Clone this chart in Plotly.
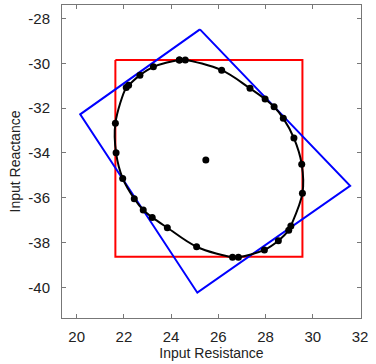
import plotly.graph_objects as go

# Red bounding rectangle (corners, closed)
red_x = [21.64, 29.56, 29.56, 21.64, 21.64]
red_y = [-29.85, -29.85, -38.64, -38.64, -29.85]

# Blue rotated rectangle (corners, closed)
blue_x = [25.22, 31.58, 25.11, 20.15, 25.22]
blue_y = [-28.49, -35.47, -40.24, -32.28, -28.49]

# Black closed curve through measured points
dot_x = [24.35, 24.6, 26.14, 27.34, 27.98, 28.36, 28.75, 29.2, 29.53, 29.56,
         29.07, 28.98, 28.54, 27.95, 26.85, 26.6, 25.08, 23.84, 23.2, 22.82,
         22.44, 21.95, 21.67, 21.64, 22.1, 22.2, 22.68, 23.25]
dot_y = [-29.85, -29.85, -30.31, -31.12, -31.6, -31.94, -32.46, -33.34, -34.51, -35.8,
         -37.26, -37.45, -37.92, -38.33, -38.66, -38.66, -38.19, -37.34, -36.88, -36.55,
         -36.05, -35.14, -34.0, -32.68, -31.08, -30.98, -30.53, -30.16]

center_x = [25.47]
center_y = [-34.32]

xticks = [20, 22, 24, 26, 28, 30, 32]
yticks = [-40, -38, -36, -34, -32, -30, -28]

fig = go.Figure()
fig.add_trace(go.Scatter(x=red_x, y=red_y, mode="lines",
                         line=dict(color="#ff0000", width=2), showlegend=False))
fig.add_trace(go.Scatter(x=blue_x, y=blue_y, mode="lines",
                         line=dict(color="#0000ff", width=2), showlegend=False))
fig.add_trace(go.Scatter(x=dot_x + [dot_x[0]], y=dot_y + [dot_y[0]], mode="lines+markers",
                         line=dict(color="black", width=2, shape="spline", smoothing=1.0),
                         marker=dict(color="black", size=7), showlegend=False))
fig.add_trace(go.Scatter(x=center_x, y=center_y, mode="markers",
                         marker=dict(color="black", size=7), showlegend=False))

axis_common = dict(showgrid=False, zeroline=False, showline=True, linecolor="#777777",
                   linewidth=1, mirror="ticks", ticks="inside", ticklen=4,
                   tickcolor="#777777", automargin=False,
                   tickfont=dict(family="Liberation Sans, Arial", size=15, color="#222222"))

fig.update_layout(
    width=376, height=364,
    margin=dict(l=62, r=15, t=5, b=46),
    paper_bgcolor="white", plot_bgcolor="white",
    xaxis=dict(range=[19.38, 32.04], tickvals=xticks, ticktext=[str(v) for v in xticks],
               ticklabelstandoff=5,
               title=dict(text="Input Resistance", standoff=2,
                          font=dict(family="Liberation Sans, Arial", size=14, color="#222222")),
               **axis_common),
    yaxis=dict(range=[-41.37, -27.4], tickvals=yticks, ticktext=[str(v) for v in yticks],
               ticklabelstandoff=8,
               title=dict(text="Input Reactance", standoff=4,
                          font=dict(family="Liberation Sans, Arial", size=14, color="#222222")),
               **axis_common),
)

fig.write_html("out.html", config={"displayModeBar": False},
               post_script="document.body.style.margin='0';")
